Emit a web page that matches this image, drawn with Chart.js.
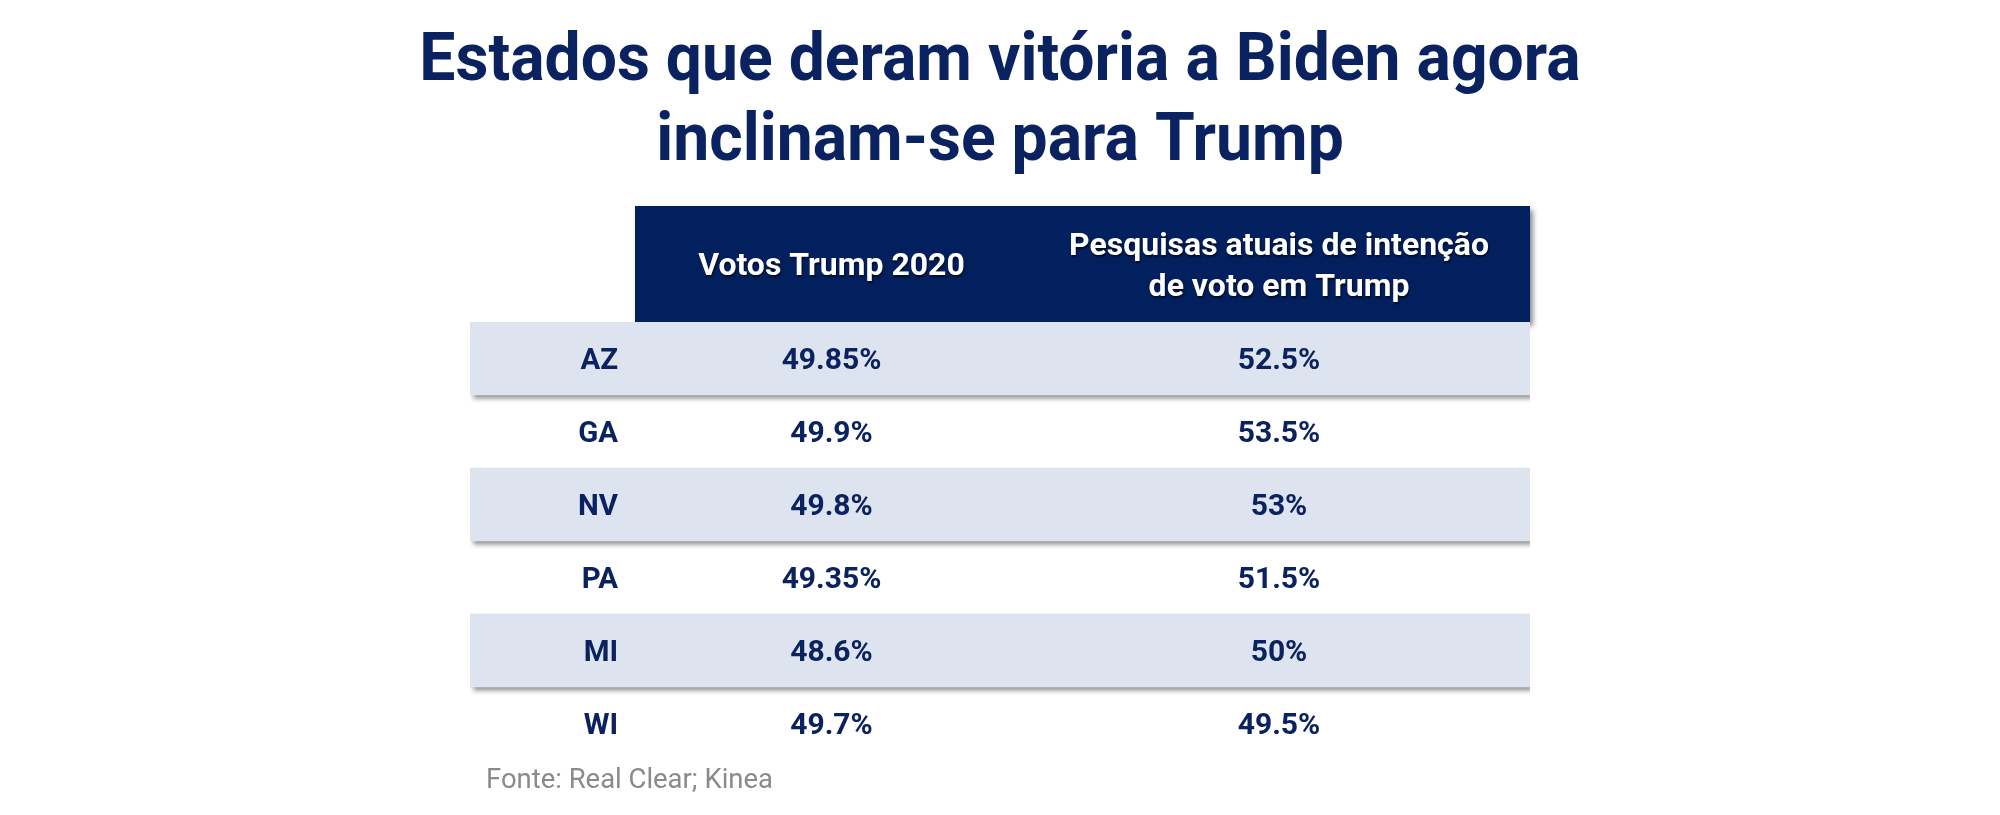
<!DOCTYPE html>
<html>
<head>
<meta charset="utf-8">
<script src="https://cdn.jsdelivr.net/npm/chart.js@4"></script>
<style>
  html, body { margin: 0; padding: 0; background: #fff; }
  #wrap { width: 2000px; height: 815px; }
</style>
</head>
<body>
<div id="wrap"><canvas id="myChart" width="2000" height="815"></canvas></div>
<script>
// table data
const states = ['AZ', 'GA', 'NV', 'PA', 'MI', 'WI'];
const votos2020 = [49.85, 49.9, 49.8, 49.35, 48.6, 49.7];
const pesquisas = [52.5, 53.5, 53, 51.5, 50, 49.5];
const headers = [['Votos Trump 2020'], ['Pesquisas atuais de intenção', 'de voto em Trump']];
const titleLines = ['Estados que deram vitória a Biden agora', 'inclinam-se para Trump'];
const fonte = 'Fonte: Real Clear; Kinea';

// layout of the columns (label column, then one per series)
const colWidths = [165, 393, 502];
const colEdges = [0];
colWidths.forEach(w => colEdges.push(colEdges[colEdges.length - 1] + w));
const totalW = colEdges[colEdges.length - 1];

const navy = '#03205e';
const textNavy = '#0b2260';
const rowFill = '#dde4f0';
const headerH = 116;

// shaded rows are every other one, starting with the first
const shaded = states.map((s, i) => i % 2 === 0 ? [0, totalW] : null);

function squeezeText(ctx, txt, x, y, sx, align) {
    ctx.save();
    ctx.translate(x, y);
    ctx.scale(sx, 1);
    ctx.textAlign = align;
    ctx.fillText(txt, 0, 0);
    ctx.restore();
}

const tablePlugin = {
    id: 'tablePlugin',
    beforeDatasetsDraw(chart) {
        const ctx = chart.ctx;
        const x = chart.scales.x, area = chart.chartArea;
        const left = x.getPixelForValue(colEdges[1]);
        const right = x.getPixelForValue(totalW);
        ctx.save();
        ctx.shadowColor = 'rgba(0,0,0,0.45)';
        ctx.shadowBlur = 5;
        ctx.shadowOffsetX = 3;
        ctx.shadowOffsetY = 4;
        ctx.fillStyle = navy;
        ctx.fillRect(left, area.top - headerH, right - left, headerH);
        ctx.restore();
    },
    beforeDatasetDraw(chart) {
        const ctx = chart.ctx;
        ctx.save();
        ctx.shadowColor = 'rgba(0,0,0,0.45)';
        ctx.shadowBlur = 5;
        ctx.shadowOffsetX = 3;
        ctx.shadowOffsetY = 4;
    },
    afterDatasetDraw(chart) {
        chart.ctx.restore();
    },
    afterDatasetsDraw(chart) {
        const ctx = chart.ctx;
        const x = chart.scales.x, y = chart.scales.y, area = chart.chartArea;

        // header texts
        ctx.save();
        ctx.font = 'bold 32px Roboto';
        ctx.fillStyle = '#ffffff';
        ctx.shadowColor = 'rgba(0,0,0,0.6)';
        ctx.shadowBlur = 2;
        ctx.shadowOffsetX = 1;
        ctx.shadowOffsetY = 2;
        const hMid = area.top - headerH / 2;
        headers.forEach((lines, c) => {
            const cx = x.getPixelForValue((colEdges[c + 1] + colEdges[c + 2]) / 2);
            const lh = 41;
            lines.forEach((ln, k) => {
                const base = hMid + 11 + (k - (lines.length - 1) / 2) * lh;
                squeezeText(ctx, ln, cx, base, 1.0, 'center');
            });
        });
        ctx.restore();

        // body texts
        ctx.save();
        ctx.font = 'bold 30px Roboto';
        ctx.fillStyle = textNavy;
        const c1 = x.getPixelForValue((colEdges[1] + colEdges[2]) / 2);
        const c2 = x.getPixelForValue((colEdges[2] + colEdges[3]) / 2);
        const lblRight = x.getPixelForValue(colEdges[1] - 17);
        states.forEach((s, i) => {
            const base = y.getPixelForValue(i) + 10.5;
            squeezeText(ctx, s, lblRight, base, 0.98, 'right');
            squeezeText(ctx, votos2020[i] + '%', c1, base, 1.0, 'center');
            squeezeText(ctx, pesquisas[i] + '%', c2, base, 1.0, 'center');
        });
        ctx.restore();

        // title
        ctx.save();
        ctx.font = 'bold 66px Roboto';
        ctx.fillStyle = textNavy;
        titleLines.forEach((ln, k) => {
            squeezeText(ctx, ln, chart.width / 2, 80 + k * 80, 0.973, 'center');
        });
        // source
        ctx.font = '28px Roboto';
        ctx.fillStyle = '#8a8a8a';
        squeezeText(ctx, fonte, x.getPixelForValue(16), 788, 0.98, 'left');
        ctx.restore();
    }
};

const ctx = document.getElementById('myChart').getContext('2d');
const myChart = new Chart(ctx, {
    type: 'bar',
    data: {
        labels: states,
        datasets: [{
            label: 'linhas',
            data: shaded,
            backgroundColor: rowFill,
            borderWidth: 0,
            barPercentage: 1,
            categoryPercentage: 1
        }]
    },
    options: {
        indexAxis: 'y',
        responsive: false,
        animation: false,
        layout: {
            padding: { left: 470, right: 470, top: 322, bottom: 55 }
        },
        scales: {
            x: { type: 'linear', min: 0, max: totalW, display: false },
            y: { type: 'category', display: false }
        },
        plugins: {
            legend: { display: false },
            title: { display: false },
            tooltip: { enabled: false }
        }
    },
    plugins: [tablePlugin]
});
</script>
</body>
</html>
